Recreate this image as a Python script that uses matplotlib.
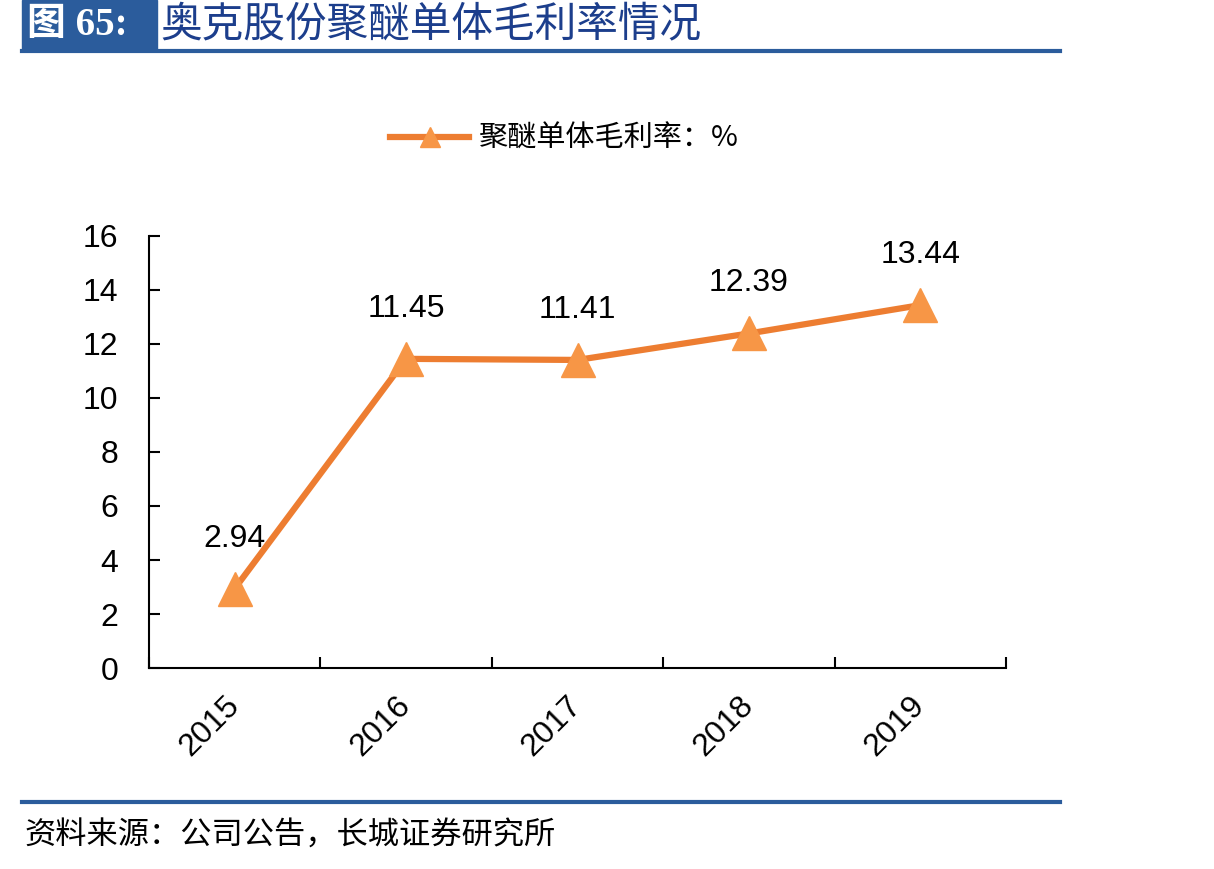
import numpy as np
import matplotlib.pyplot as plt
from matplotlib.lines import Line2D

plt.rcParams['font.family'] = ['Liberation Sans', 'Noto Sans CJK SC', 'DejaVu Sans']

years = ['2015', '2016', '2017', '2018', '2019']
margin = [2.94, 11.45, 11.41, 12.39, 13.44]
series_name = '聚醚单体毛利率：%'
title_tag = '图 65:'
title_text = '奥克股份聚醚单体毛利率情况'
source_text = '资料来源：公司公告，长城证券研究所'

line_color = '#ED7D31'
marker_color = '#F79646'
navy = '#2B5C9C'

fig = plt.figure(figsize=(12.14, 8.69), dpi=100)
W, H = 1214, 869

# header
fig.patches.append(plt.Rectangle((22 / W, 1 - 50 / H), (157 - 22) / W, 50 / H,
                                 transform=fig.transFigure, color=navy, zorder=1))
fig.lines.append(Line2D([22 / W, 1060 / W], [1 - 51 / H, 1 - 51 / H],
                        transform=fig.transFigure, color=navy, lw=3))
fig.text(27 / W, 1 - 25 / H, title_tag, color='white', fontsize=28, fontweight='bold',
         family=['Liberation Serif', 'Noto Sans CJK SC'], va='center', ha='left')
fig.text(160 / W, 1 - 25 / H, title_text, color='#1C3E8C', fontsize=30,
         family=['Noto Sans CJK SC'], va='center', ha='left')

# footer
fig.lines.append(Line2D([22 / W, 1060 / W], [1 - 802 / H, 1 - 802 / H],
                        transform=fig.transFigure, color=navy, lw=3))
fig.text(24 / W, 1 - 836 / H, source_text, fontsize=22.5, style='italic',
         family=['Noto Sans CJK SC'], va='center', ha='left')

ax = fig.add_axes([149 / W, 1 - 668 / H, (1006 - 149) / W, (668 - 236) / H])
x = np.arange(len(years))
ax.plot(x, margin, color=line_color, lw=4.5, marker='^', markersize=24,
        markerfacecolor=marker_color, markeredgecolor=marker_color, clip_on=False,
        label=series_name)
for xi, v in zip(x, margin):
    ax.annotate(f'{v:.2f}', (xi, v), xytext=(0, 36), textcoords='offset points',
                ha='center', va='center', fontsize=23)

ax.set_xlim(-0.5, len(years) - 0.5)
ax.set_ylim(0, 16)
ax.set_yticks(range(0, 17, 2))
ax.set_xticks(x)
ax.set_xticklabels(years, rotation=45, ha='right', va='center',
                   rotation_mode='anchor', fontsize=23)
ax.set_xticks(np.arange(-0.5, len(years), 1), minor=True)
ax.tick_params(axis='x', which='major', length=0, pad=24)
ax.tick_params(axis='x', which='minor', direction='in', length=8, width=1.5)
ax.tick_params(axis='y', direction='in', length=8, width=1.5, labelsize=23, pad=22)
for s in ['top', 'right']:
    ax.spines[s].set_visible(False)
for s in ['left', 'bottom']:
    ax.spines[s].set_linewidth(1.5)

leg = fig.legend(handles=[Line2D([], [], color=line_color, lw=4.5, marker='^', markersize=14,
                                 markerfacecolor=marker_color, markeredgecolor=marker_color)],
                 labels=[series_name], loc='center left',
                 bbox_to_anchor=(364 / W, 1 - 139 / H), frameon=False, handlelength=2.7,
                 handletextpad=0.3,
                 prop={'family': ['Noto Sans CJK SC', 'Liberation Sans'], 'size': 21})

fig.savefig('out.png', dpi=100)
